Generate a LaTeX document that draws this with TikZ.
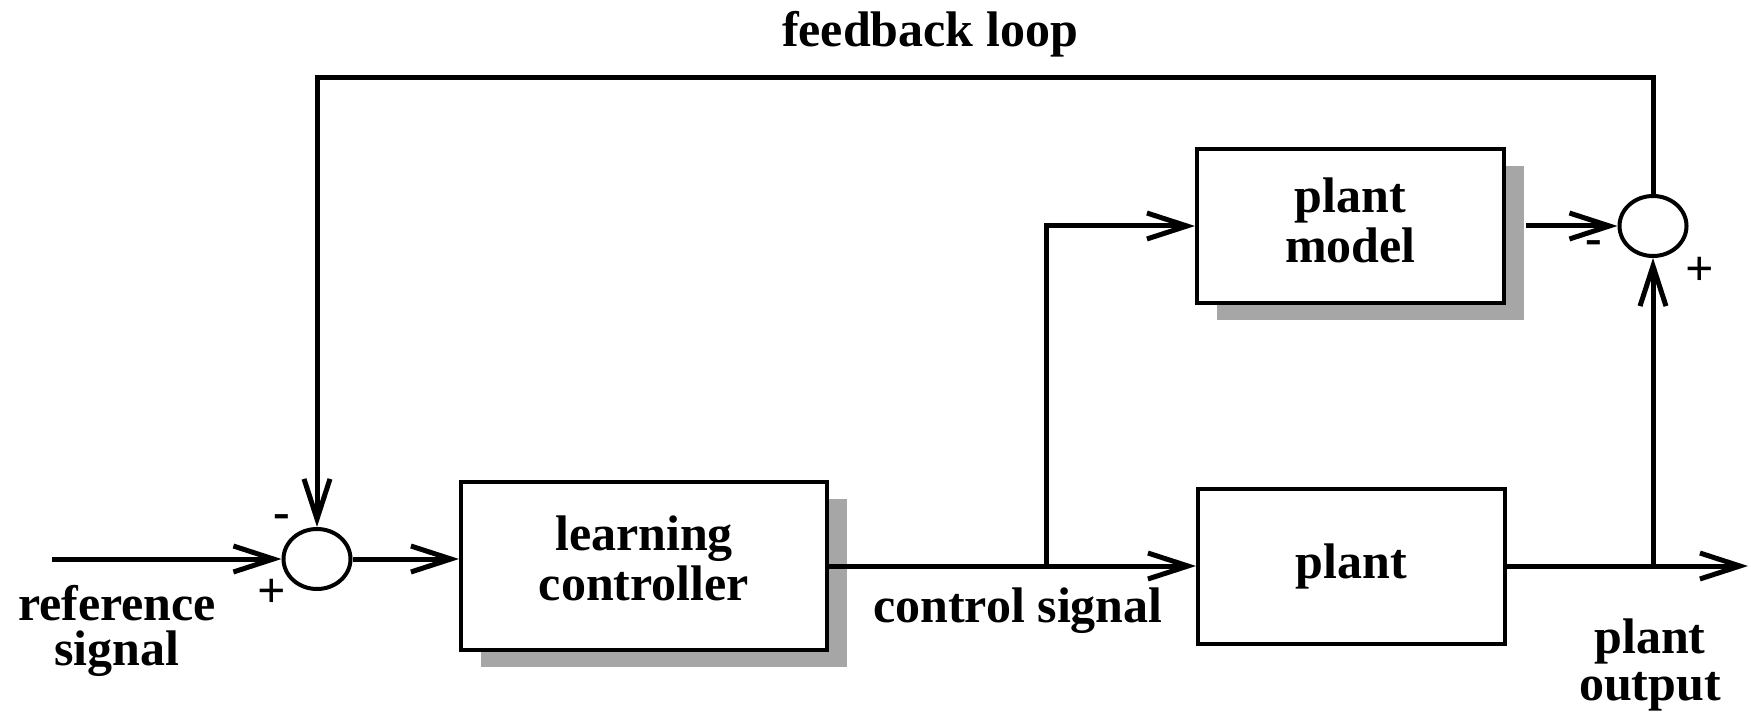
\documentclass[tikz,border=0pt]{standalone}
\usepackage{fontspec}
\setmainfont{Liberation Serif}
\usetikzlibrary{arrows.meta,shadows,calc,shapes.geometric}
\begin{document}
\begin{tikzpicture}[x=1pt,y=-1pt,
  every node/.style={font=\fontsize{50}{50}\selectfont\bfseries},
  blockbox/.style={draw,line width=4pt,fill=white,align=center,inner sep=0pt},
  shadowed/.style={drop shadow={shadow xshift=20pt,shadow yshift=-17pt,fill=black!35,opacity=1}},
  sumnode/.style={draw,line width=4pt,ellipse,minimum width=67pt,minimum height=60pt,inner sep=0pt},
  conn/.style={line width=5pt},
  arr/.style={conn,-{Straight Barb[length=40pt,width=26pt]}},
  lbl/.style={align=center,inner sep=0pt},
  sign/.style={inner sep=0pt},
  line join=miter]
\useasboundingbox (0,0) rectangle (1751,714);
% blocks
\node[blockbox,shadowed,minimum width=366pt,minimum height=168pt] (lc) at (644,566) {learning\\controller\rule[-16pt]{0pt}{16pt}};
\node[blockbox,shadowed,minimum width=307pt,minimum height=153pt] (pm) at (1350.5,226) {plant\\model\rule[-12pt]{0pt}{12pt}};
\node[blockbox,minimum width=307pt,minimum height=155pt] (pl) at (1351.5,566) {plant};
% summing junctions
\node[sumnode] (s1) at (317,559) {};
\node[sumnode] (s2) at (1653,226) {};
% helper coordinates
\coordinate (in) at (52,559);
\coordinate (out) at (1748,566);
\coordinate (br1) at (1046,566);
\coordinate (br2) at (1653,566);
\coordinate (top) at (0,78);
\coordinate (pmout) at ($(pm.east)+(20,0)$);
% connectors
\draw[arr] (in) -- (s1.west);
\draw[arr] (s1.east) -- (s1.east -| lc.west);
\draw[arr] (lc.east) -- (pl.west);
\draw[arr] (br1) |- (pm.west);
\draw[arr] (pmout) -- (s2.west);
\draw[arr] (pl.east) -- (out);
\draw[arr] (br2) -- (s2.south);
\draw[arr] (s2.north) -- (s2.north |- top) -- (s1.north |- top) -- (s1.north);
% signs
\node[sign] (m1) at (282,522) {-};
\node[sign] (p1) at (272,593) {+};
\node[sign] (m2) at (1594,248) {-};
\node[sign] (p2) at (1700,271) {+};
% labels
\node[lbl,anchor=base] (fb) at (930,47) {feedback loop};
\node[lbl,anchor=base] (rs) at (117,665) {reference\\[-5pt]signal};
\node[lbl,anchor=base] (cs) at (1018,622) {control signal};
\node[lbl,anchor=base] (po) at (1650,700) {plant\\[-3pt]output};
\end{tikzpicture}
\end{document}
